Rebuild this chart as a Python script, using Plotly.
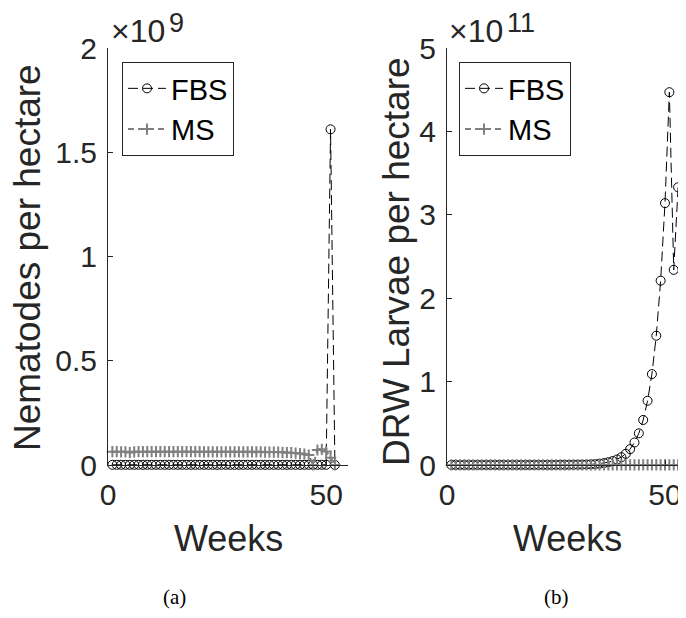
import plotly.graph_objects as go

# ---------------- data ----------------
weeks_a = list(range(1, 53))   # panel (a)
weeks_b = list(range(1, 54))   # panel (b)

# panel (a): nematodes per hectare, in units of 1e9
fbs_nematodes = [0.001, 0.001, 0.001, 0.001, 0.001, 0.001, 0.001, 0.001, 0.001, 0.001,
                 0.001, 0.001, 0.001, 0.001, 0.001, 0.001, 0.001, 0.001, 0.001, 0.001,
                 0.001, 0.001, 0.001, 0.001, 0.001, 0.001, 0.001, 0.001, 0.001, 0.001,
                 0.001, 0.001, 0.001, 0.001, 0.001, 0.001, 0.001, 0.001, 0.001, 0.001,
                 0.001, 0.001, 0.001, 0.001, 0.001, 0.001, 0.001, 0.001, 0.001, 0.001,
                 1.61, 0.0]
ms_nematodes = [0.064, 0.064, 0.063, 0.063, 0.060, 0.063, 0.064, 0.064, 0.064, 0.064,
                0.064, 0.064, 0.064, 0.064, 0.064, 0.064, 0.064, 0.064, 0.064, 0.064,
                0.064, 0.063, 0.063, 0.063, 0.063, 0.063, 0.063, 0.063, 0.063, 0.063,
                0.063, 0.063, 0.063, 0.063, 0.063, 0.062, 0.062, 0.062, 0.062, 0.061,
                0.060, 0.059, 0.057, 0.055, 0.052, 0.048, 0.0, 0.072, 0.075, 0.065,
                0.035, 0.0]

# panel (b): DRW larvae per hectare, in units of 1e11
fbs_larvae = [0.001, 0.001, 0.001, 0.001, 0.001, 0.001, 0.001, 0.001, 0.001, 0.001,
              0.001, 0.001, 0.001, 0.001, 0.001, 0.001, 0.001, 0.001, 0.001, 0.001,
              0.001, 0.001, 0.001, 0.001, 0.002, 0.002, 0.002, 0.003, 0.003, 0.004,
              0.005, 0.006, 0.008, 0.011, 0.016, 0.023, 0.033, 0.047, 0.066, 0.094,
              0.134, 0.19, 0.27, 0.38, 0.54, 0.77, 1.09, 1.55, 2.21, 3.14,
              4.47, 2.34, 3.33]
ms_larvae = [0.0005, 0.0005, 0.0005, 0.0005, 0.0005, 0.0005, 0.0005, 0.0005, 0.0005, 0.0005,
             0.0005, 0.0005, 0.0005, 0.0005, 0.0005, 0.0005, 0.0005, 0.0005, 0.0005, 0.0005,
             0.0005, 0.0005, 0.0005, 0.0005, 0.0005, 0.0005, 0.0005, 0.0005, 0.0005, 0.0005,
             0.0005, 0.0005, 0.0005, 0.0005, 0.0005, 0.0005, 0.0005, 0.0005, 0.0005, 0.0005,
             0.0005, 0.0005, 0.0005, 0.0005, 0.0005, 0.0005, 0.0005, 0.0005, 0.0005, 0.0005,
             0.0005, 0.0005, 0.0005]

yticks_a = [0, 0.5, 1, 1.5, 2]
yticks_b = [0, 1, 2, 3, 4, 5]
xticks = [0, 50]
series_names = ["FBS", "MS"]

# ---------------- styling ----------------
OFF = 8  # page body margin offset compensation
W, H = 686 - OFF, 618 - 2 * OFF
FONT = "Liberation Sans, Arial, sans-serif"
SERIF = "Liberation Serif, DejaVu Serif, serif"
AX = "#262626"
GRAY = "#808080"
PX_PER_WEEK = 4.36


def px_x(p):
    return min(1.0, (p - OFF) / W)


def px_y(p):
    return 1 - (p - OFF) / H


fig = go.Figure()


def add_pair(xs, y_fbs, y_ms, xa, ya, leg):
    fig.add_trace(go.Scatter(
        x=xs, y=y_fbs, name=series_names[0], mode="lines+markers",
        xaxis=xa, yaxis=ya, legend=leg, cliponaxis=False,
        line=dict(color="black", width=1, dash="10px,5px"),
        marker=dict(symbol="circle-open", size=9, color="black", line=dict(width=1, color="black")),
    ))
    fig.add_trace(go.Scatter(
        x=xs, y=y_ms, name=series_names[1], mode="lines+markers",
        xaxis=xa, yaxis=ya, legend=leg, cliponaxis=False,
        line=dict(color=GRAY, width=2, dash="6px,4px"),
        marker=dict(symbol="cross-thin-open", size=8, color=GRAY, line=dict(width=2, color=GRAY)),
    ))


add_pair(weeks_a, fbs_nematodes, ms_nematodes, "x", "y", "legend")
add_pair(weeks_b, fbs_larvae, ms_larvae, "x2", "y2", "legend2")

y_dom = [px_y(465), px_y(48)]
common_x = dict(tickvals=xticks, ticktext=[str(v) for v in xticks],
                ticks="inside", ticklen=5, tickcolor=AX, showline=True, linecolor=AX,
                linewidth=1, showgrid=False, zeroline=False, automargin=False,
                tickfont=dict(family=FONT, size=30, color=AX), ticklabelstandoff=3)
common_y = dict(ticks="inside", ticklen=5, tickcolor=AX, showline=True, linecolor=AX,
                linewidth=1, showgrid=False, zeroline=False, domain=y_dom, automargin=False,
                tickfont=dict(family=FONT, size=30, color=AX), ticklabelstandoff=4)

legend_common = dict(xanchor="left", yanchor="top", bordercolor=AX, borderwidth=1,
                     bgcolor="white", font=dict(family=FONT, size=29, color="black"),
                     tracegroupgap=0, itemwidth=38)

x2_left = 447
x2_right_px = OFF + W
x2_max = (x2_right_px - x2_left) / PX_PER_WEEK

fig.update_layout(
    width=W, height=H, margin=dict(l=0, r=0, t=0, b=0, autoexpand=False),
    paper_bgcolor="white", plot_bgcolor="white", showlegend=True,
    xaxis=dict(domain=[px_x(108), px_x(348)], range=[0, 55], anchor="y", **common_x),
    yaxis=dict(range=[0, 2], tickvals=yticks_a, ticktext=[f"{v:g}" for v in yticks_a],
               anchor="x", **common_y),
    xaxis2=dict(domain=[px_x(x2_left), 1.0], range=[0, x2_max], anchor="y2", **common_x),
    yaxis2=dict(range=[0, 5], tickvals=yticks_b, ticktext=[f"{v:g}" for v in yticks_b],
                anchor="x2", **common_y),
    legend=dict(x=px_x(122), y=px_y(62), **legend_common),
    legend2=dict(x=px_x(459), y=px_y(62), **legend_common),
)


def text(t, x, y, size, family=FONT, color=AX, angle=0, xanchor="center", yanchor="middle"):
    return dict(text=t, x=px_x(x), y=px_y(y), xref="paper", yref="paper", showarrow=False,
                xanchor=xanchor, yanchor=yanchor, textangle=angle, borderpad=0,
                font=dict(family=family, size=size, color=color))


ann = [
    text("Weeks", 228, 538, 36),
    text("Weeks", 567, 538, 36),
    text("Nematodes per hectare", 28, 258, 37, angle=-90),
    text("DRW Larvae per hectare", 396, 262, 37, angle=-90),
    # exponent labels
    text("×10", 110, 31, 32, xanchor="left"),
    text("9", 168, 23, 27, xanchor="left"),
    text("×10", 448, 31, 32, xanchor="left"),
    text("11", 506, 23, 27, xanchor="left"),
    # captions
    text("(a)", 174, 597, 21, family=SERIF, color="black"),
    text("(b)", 556, 597, 21, family=SERIF, color="black"),
]
fig.update_layout(annotations=ann)

fig.write_html("out.html")
